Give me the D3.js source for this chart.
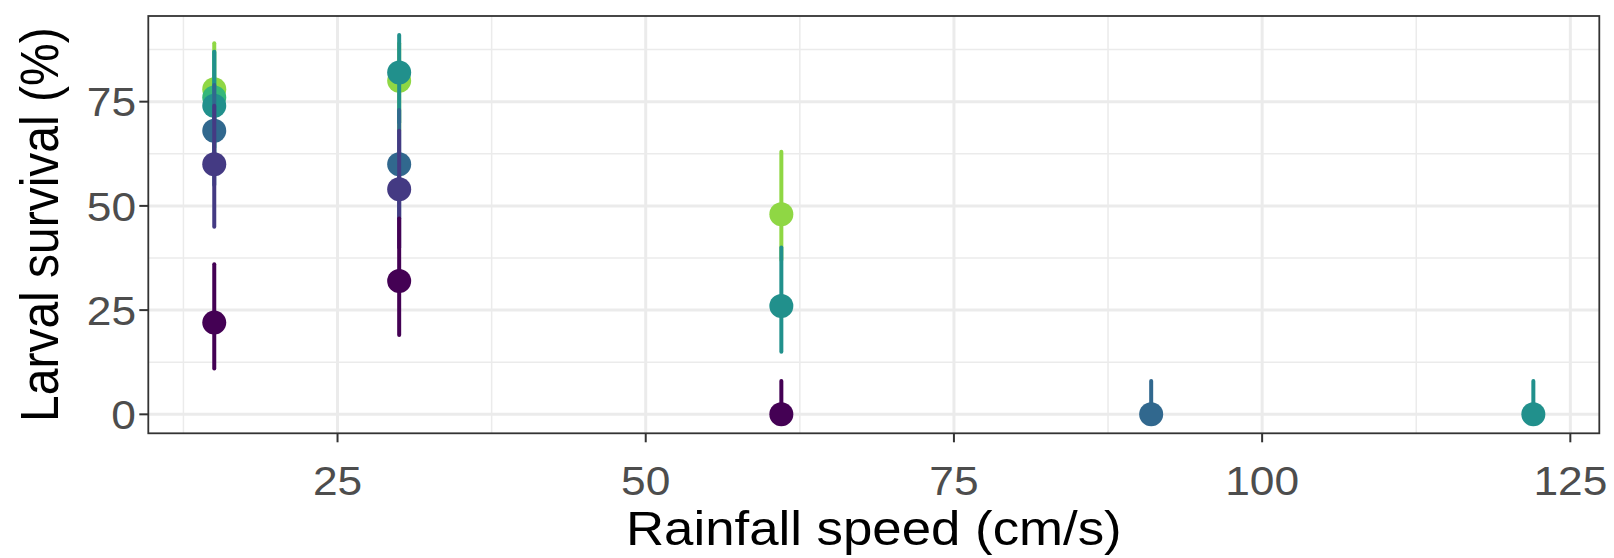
<!DOCTYPE html>
<html lang="en">
<head>
<meta charset="UTF-8">
<title>Larval survival vs rainfall speed</title>
<script src="https://d3js.org/d3.v7.min.js"></script>
<style>
    body { margin: 0; background: #fff; }
    svg { display: block; }
    .tick-label { font-family: "Liberation Sans", Arial, sans-serif; font-size: 41px; fill: #4d4d4d; }
    .axis-title { font-family: "Liberation Sans", Arial, sans-serif; font-size: 48px; fill: #000; }
</style>
</head>
<body>
<svg width="1614" height="558"></svg>
<script>
    // one row per point: rainfall speed, survival, lower / upper interval, group level
    const speed = [15, 15, 15, 15, 15, 15, 30, 30, 30, 30, 30, 61, 61, 61, 91, 122];
    const survival = [22, 60, 68, 74, 76, 78, 32, 54, 60, 82, 80, 0, 26, 48, 0, 0];
    const lower = [11, 45, 55, 62, 64, 66, 19, 40, 47, 70, 68, 0, 15, 37, 0, 0];
    const upper = [36, 74, 79, 87, 87, 89, 47, 68, 73, 91, 89, 8, 40, 63, 8, 8];
    const level = [0, 1, 2, 3, 4, 5, 0, 1, 2, 3, 5, 0, 3, 5, 2, 3];

    const levelColors = ["#440154", "#443A83", "#31688E", "#21908C", "#35B779", "#8FD744"];
    const xTicks = [25, 50, 75, 100, 125];
    const yTicks = [0, 25, 50, 75];

    const svg = d3.select("svg");
    const panel = { left: 148.3, right: 1599.3, top: 16, bottom: 433.3 };

    // ggplot style 5% expansion around the data range
    const xMin = d3.min(speed), xMax = d3.max(speed);
    const yMin = d3.min(lower), yMax = d3.max(upper);
    const xPad = (xMax - xMin) * 0.05, yPad = (yMax - yMin) * 0.05;

    const x = d3.scaleLinear().domain([xMin - xPad, xMax + xPad]).range([panel.left, panel.right]);
    const y = d3.scaleLinear().domain([yMin - yPad, yMax + yPad]).range([panel.bottom, panel.top]);

    const xMinor = d3.range(12.5, xMax + xPad, 25);
    const yMinor = d3.range(12.5, yMax + yPad, 25);

    const grid = svg.append("g");
    grid.selectAll(".xminor").data(xMinor).enter().append("line")
        .attr("x1", d => x(d)).attr("x2", d => x(d))
        .attr("y1", panel.top).attr("y2", panel.bottom)
        .attr("stroke", "#ebebeb").attr("stroke-width", 1.5);
    grid.selectAll(".yminor").data(yMinor).enter().append("line")
        .attr("x1", panel.left).attr("x2", panel.right)
        .attr("y1", d => y(d)).attr("y2", d => y(d))
        .attr("stroke", "#ebebeb").attr("stroke-width", 1.5);
    grid.selectAll(".xmajor").data(xTicks).enter().append("line")
        .attr("x1", d => x(d)).attr("x2", d => x(d))
        .attr("y1", panel.top).attr("y2", panel.bottom)
        .attr("stroke", "#ebebeb").attr("stroke-width", 3);
    grid.selectAll(".ymajor").data(yTicks).enter().append("line")
        .attr("x1", panel.left).attr("x2", panel.right)
        .attr("y1", d => y(d)).attr("y2", d => y(d))
        .attr("stroke", "#ebebeb").attr("stroke-width", 3);

    // points with their intervals, higher levels drawn first
    const rows = d3.range(speed.length).sort((a, b) => level[b] - level[a]);
    const marks = svg.append("g");
    rows.forEach(function (i) {
        const col = levelColors[level[i]];
        marks.append("line")
            .attr("x1", x(speed[i])).attr("x2", x(speed[i]))
            .attr("y1", y(lower[i])).attr("y2", y(upper[i]))
            .attr("stroke", col).attr("stroke-width", 4)
            .attr("stroke-linecap", "round");
        marks.append("circle")
            .attr("cx", x(speed[i])).attr("cy", y(survival[i]))
            .attr("r", 12).attr("fill", col);
    });

    // panel border
    svg.append("rect")
        .attr("x", panel.left).attr("y", panel.top)
        .attr("width", panel.right - panel.left).attr("height", panel.bottom - panel.top)
        .attr("fill", "none").attr("stroke", "#333333").attr("stroke-width", 1.8);

    // ticks and labels
    const axes = svg.append("g");
    xTicks.forEach(function (t) {
        axes.append("line")
            .attr("x1", x(t)).attr("x2", x(t))
            .attr("y1", panel.bottom).attr("y2", panel.bottom + 9)
            .attr("stroke", "#333333").attr("stroke-width", 2);
        axes.append("text").attr("class", "tick-label")
            .attr("transform", "translate(" + x(t) + "," + 495 + ") scale(1.08,1)")
            .attr("text-anchor", "middle")
            .text(t);
    });
    yTicks.forEach(function (t) {
        axes.append("line")
            .attr("x1", panel.left - 9).attr("x2", panel.left)
            .attr("y1", y(t)).attr("y2", y(t))
            .attr("stroke", "#333333").attr("stroke-width", 2);
        axes.append("text").attr("class", "tick-label")
            .attr("transform", "translate(" + 136 + "," + y(t) + ") scale(1.08,1)")
            .attr("text-anchor", "end")
            .attr("dy", "0.36em")
            .text(t);
    });

    svg.append("text").attr("class", "axis-title")
        .attr("transform", "translate(" + ((panel.left + panel.right) / 2) + "," + 545 + ") scale(1.1,1)")
        .attr("text-anchor", "middle")
        .text("Rainfall speed (cm/s)");

    svg.append("text").attr("class", "axis-title")
        .attr("transform", "translate(" + 58 + "," + ((panel.top + panel.bottom) / 2) + ") scale(1.1,1) rotate(-90)")
        .attr("text-anchor", "middle")
        .text("Larval survival (%)");
</script>
</body>
</html>
